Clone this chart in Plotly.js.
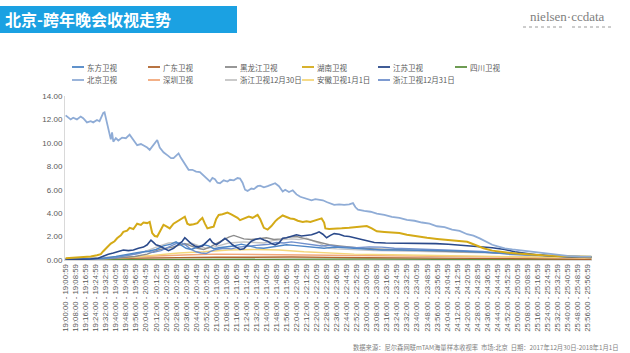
<!DOCTYPE html>
<html><head><meta charset="utf-8">
<script src="https://cdn.plot.ly/plotly-3.0.1.min.js"></script>
<style>html,body{margin:0;padding:0;background:#fff}#c{width:630px;height:353px}</style>
</head><body><div id="c"></div>
<script>
// minutes after 19:00, rating %
const seriesNames = ['东方卫视','广东卫视','黑龙江卫视','湖南卫视','江苏卫视','四川卫视','北京卫视','深圳卫视','浙江卫视12月30日','安徽卫视1月1日','浙江卫视12月31日'];
const seriesColors = ['#4E86C6','#B0652E','#8C8C8C','#D4AA17','#2B4A8B','#5E9140','#8FACD6','#F2A77A','#C4C4C4','#F4D67A','#7090CC'];
const seriesWidths = [1.4,1.4,1.4,2,1.6,1.4,1.8,1.4,1.4,1.4,1.4];

const dongfang = [[0,0.05],[15,0.08],[30,0.15],[40,0.3],[50,0.5],[58,0.65],[66,0.75],[72,0.9],[78,1.2],[84,1.35],[88,1.55],[92,1.3],[96,1.0],[100,0.9],[105,1.1],[110,1.3],[114,1.2],[118,0.95],[122,1.05],[128,1.1],[134,1.2],[140,1.35],[146,1.2],[152,1.05],[158,1.0],[164,1.1],[170,1.2],[176,1.3],[182,1.25],[188,1.2],[194,1.1],[200,1.05],[206,1.0],[214,1.1],[222,1.05],[230,0.95],[240,0.9],[252,0.85],[265,0.85],[280,0.8],[295,0.8],[310,0.78],[325,0.7],[340,0.62],[355,0.5],[370,0.42],[385,0.35],[400,0.3],[419,0.26]];
const guangdong = [[0,0.08],[30,0.1],[60,0.15],[90,0.2],[120,0.23],[150,0.26],[180,0.25],[210,0.22],[240,0.2],[270,0.18],[300,0.15],[330,0.12],[360,0.1],[390,0.08],[419,0.07]];
const heilongjiang = [[0,0.05],[20,0.08],[40,0.15],[55,0.3],[65,0.5],[75,0.9],[85,1.1],[95,1.4],[100,1.2],[105,1.0],[110,0.9],[115,1.1],[120,1.4],[125,1.7],[130,1.95],[134,2.1],[138,1.95],[142,1.8],[148,1.75],[154,1.85],[160,1.9],[166,1.75],[172,1.8],[178,1.95],[184,2.0],[190,1.85],[196,1.7],[200,1.6],[205,1.45],[210,1.3],[218,1.2],[226,1.1],[236,1.0],[246,0.95],[258,0.9],[270,0.85],[285,0.8],[300,0.75],[315,0.7],[330,0.68],[345,0.6],[360,0.48],[375,0.38],[390,0.3],[405,0.26],[419,0.24]];
const hunan = [[0,0.15],[5,0.18],[10,0.2],[15,0.25],[20,0.3],[25,0.4],[28,0.5],[30,0.75],[33,1.1],[36,1.4],[39,1.6],[41,1.85],[44,2.1],[46,2.4],[49,2.5],[51,2.75],[54,2.65],[57,3.1],[60,3.0],[62,3.2],[65,3.15],[67,3.25],[69,2.3],[71,2.05],[73,2.0],[75,2.4],[78,3.0],[80,2.9],[83,2.7],[86,3.1],[89,3.3],[92,3.5],[95,3.7],[97,3.1],[99,3.0],[102,3.05],[105,3.15],[107,3.4],[109,3.6],[111,3.1],[113,2.7],[116,2.8],[118,2.85],[120,3.5],[122,3.85],[125,3.9],[129,4.05],[132,3.9],[134,3.8],[137,3.6],[139,3.4],[142,3.55],[146,3.7],[149,3.6],[153,3.85],[155,3.5],[158,2.75],[161,2.6],[164,2.9],[167,3.3],[169,3.5],[173,3.8],[176,3.65],[179,3.55],[182,3.5],[185,3.35],[189,3.25],[192,3.3],[195,3.25],[198,3.35],[201,3.4],[204,3.55],[206,3.2],[207,2.7],[210,2.65],[215,2.65],[220,2.7],[226,2.75],[232,2.8],[236,2.85],[240,2.9],[244,2.7],[248,2.45],[254,2.4],[260,2.35],[266,2.3],[272,2.15],[280,2.0],[288,1.9],[296,1.8],[304,1.72],[312,1.65],[320,1.55],[326,1.3],[333,1.0],[340,0.8],[346,0.7],[353,0.62],[360,0.55],[370,0.45],[380,0.4],[392,0.35],[405,0.3],[419,0.28]];
const jiangsu = [[0,0.05],[10,0.05],[20,0.08],[26,0.15],[30,0.35],[34,0.5],[38,0.6],[42,0.75],[46,0.85],[50,0.8],[54,0.85],[58,1.0],[62,1.1],[65,1.3],[68,1.7],[70,1.5],[72,1.3],[75,1.2],[78,1.0],[82,0.8],[86,1.0],[90,1.3],[93,1.6],[95,1.9],[97,1.7],[100,1.4],[103,1.2],[106,1.1],[109,1.2],[112,1.5],[115,1.8],[117,1.5],[120,1.3],[123,1.5],[127,1.85],[130,1.6],[133,1.3],[136,1.1],[139,0.9],[142,0.95],[145,1.3],[148,1.6],[151,1.75],[155,1.85],[158,1.7],[161,1.6],[164,1.4],[167,1.3],[170,1.45],[173,1.85],[176,1.9],[180,2.0],[184,2.15],[188,2.05],[192,2.1],[196,2.15],[200,2.3],[202,2.4],[205,2.2],[208,1.9],[211,2.1],[214,2.25],[218,2.2],[222,2.05],[226,2.0],[230,1.9],[235,1.75],[240,1.6],[246,1.5],[255,1.45],[265,1.45],[275,1.42],[285,1.42],[295,1.4],[305,1.35],[315,1.28],[325,1.2],[333,1.12],[340,1.05],[350,0.9],[358,0.7],[365,0.6],[375,0.45],[390,0.32],[405,0.25],[419,0.22]];
const sichuan = [[0,0.02],[60,0.05],[120,0.08],[180,0.1],[240,0.08],[300,0.07],[360,0.05],[419,0.04]];
const beijing = [[0,12.35],[2,12.2],[4,12.0],[6,12.15],[9,12.0],[12,12.25],[14,12.1],[17,11.75],[20,11.85],[22,11.75],[25,11.95],[27,11.85],[30,12.55],[31,12.6],[33,11.7],[35,10.9],[36,10.3],[37,10.9],[38,10.1],[40,10.4],[42,10.2],[45,10.45],[48,10.4],[51,10.7],[54,10.2],[57,9.8],[60,9.9],[62,9.8],[65,9.6],[67,9.4],[70,9.8],[73,10.25],[75,9.6],[78,9.2],[81,8.95],[84,8.7],[86,8.7],[88,8.9],[90,9.1],[92,8.7],[94,8.4],[96,8.0],[98,7.7],[101,7.7],[104,7.55],[107,7.5],[110,7.2],[113,6.95],[115,6.7],[117,7.0],[119,6.9],[121,6.6],[123,6.55],[126,6.8],[129,6.7],[131,6.85],[134,6.8],[137,7.0],[139,6.95],[141,6.6],[143,6.0],[145,5.9],[148,6.1],[150,6.05],[153,6.3],[155,6.35],[158,6.2],[161,6.3],[164,6.4],[167,6.55],[170,6.3],[173,5.85],[175,6.0],[178,5.8],[181,5.95],[184,5.6],[187,5.4],[190,5.3],[193,5.25],[196,5.1],[199,5.2],[202,5.15],[205,5.1],[208,4.95],[211,4.85],[214,4.7],[218,4.75],[222,4.7],[226,4.75],[229,4.85],[231,4.5],[233,4.3],[238,4.2],[243,4.12],[248,3.95],[254,3.85],[260,3.68],[266,3.6],[272,3.42],[278,3.35],[284,3.2],[290,3.1],[296,2.88],[302,2.8],[308,2.6],[314,2.48],[320,2.2],[325,2.08],[330,1.85],[335,1.6],[340,1.3],[345,1.15],[350,1.0],[356,0.9],[362,0.82],[368,0.75],[374,0.68],[380,0.6],[386,0.5],[392,0.42],[400,0.35],[410,0.3],[419,0.28]];
const shenzhen = [[0,0.1],[20,0.12],[40,0.2],[60,0.3],[80,0.4],[100,0.45],[120,0.5],[140,0.48],[160,0.5],[180,0.45],[200,0.42],[220,0.45],[240,0.4],[260,0.38],[280,0.35],[300,0.35],[320,0.32],[340,0.3],[360,0.25],[380,0.2],[400,0.18],[419,0.16]];
const zhejiang1230 = [[0,0.1],[20,0.15],[40,0.25],[55,0.5],[65,0.8],[75,1.2],[82,1.45],[88,1.5],[94,1.3],[100,1.45],[106,1.2],[112,1.0],[118,1.1],[124,1.3],[130,1.45],[136,1.5],[142,1.55],[150,1.5],[158,1.45],[165,1.65],[172,1.7],[180,1.8],[186,1.75],[192,1.85],[198,1.6],[202,1.45],[206,1.2],[210,1.0],[216,0.95],[224,0.9],[234,0.85],[246,0.8],[260,0.78],[275,0.75],[290,0.7],[305,0.7],[320,0.68],[335,0.62],[350,0.55],[365,0.45],[380,0.38],[395,0.3],[419,0.25]];
const anhui0101 = [[0,0.05],[30,0.1],[50,0.2],[70,0.4],[90,0.6],[110,0.7],[130,0.85],[150,0.9],[170,0.85],[190,0.7],[210,0.6],[230,0.5],[260,0.45],[290,0.4],[320,0.35],[350,0.3],[380,0.22],[419,0.18]];
const zhejiang1231 = [[0,0.03],[15,0.05],[30,0.1],[40,0.2],[50,0.4],[58,0.55],[64,0.75],[70,0.65],[76,0.8],[82,1.1],[88,1.4],[92,1.5],[96,1.25],[100,0.9],[104,0.7],[108,0.6],[112,0.55],[116,0.75],[120,0.9],[126,1.0],[132,0.95],[138,1.1],[144,1.15],[150,1.25],[156,1.3],[162,1.35],[168,1.5],[174,1.45],[180,1.55],[186,1.45],[192,1.35],[198,1.3],[204,1.2],[210,1.25],[216,1.15],[224,1.1],[232,1.05],[242,1.12],[252,1.1],[262,1.0],[272,0.95],[282,0.9],[292,0.88],[302,0.85],[312,0.82],[322,0.78],[332,0.72],[342,0.62],[352,0.5],[365,0.42],[380,0.36],[400,0.3],[419,0.27]];
const allSeries = [dongfang,guangdong,heilongjiang,hunan,jiangsu,sichuan,beijing,shenzhen,zhejiang1230,anhui0101,zhejiang1231];

const yTicks = [0,2,4,6,8,10,12,14];
const tickMinutes = [];
for (let m = 0; m <= 416; m += 8) tickMinutes.push(m);
const pad = n => String(n).padStart(2,'0');
const tickLabels = tickMinutes.map(m => {
  const h = pad(19 + Math.floor(m/60)), mm = pad(m%60);
  return h+':'+mm+':00 - '+h+':'+mm+':59';
});

const W=630,H=353,L=65,R=38,T=96,B=93, PW=W-L-R, PH=H-T-B;
const fx = px => (px-L)/PW, fy = py => (H-B-py)/PH;

const traces = allSeries.map((s,i)=>({
  type:'scatter', mode:'lines', name:seriesNames[i],
  x:s.map(p=>p[0]), y:s.map(p=>p[1]),
  line:{color:seriesColors[i], width:seriesWidths[i]}, hoverinfo:'skip'
}));
const order=[5,1,7,9,8,2,10,0,4,3,6];
const drawTraces = order.map(i=>traces[i]);

const shapes=[], annotations=[];
shapes.push({type:'rect',xref:'paper',yref:'paper',x0:fx(0),x1:fx(237),y0:fy(33),y1:fy(6),fillcolor:'#1BA1E2',line:{width:0},layer:'below'});
annotations.push({xref:'paper',yref:'paper',x:fx(3),y:fy(19.5),xanchor:'left',yanchor:'middle',showarrow:false,
  text:'<b>北京-跨年晚会收视走势</b>',font:{family:'Noto Sans CJK SC',size:16,color:'#ffffff'}});
annotations.push({xref:'paper',yref:'paper',x:fx(567),y:fy(16.5),xanchor:'center',yanchor:'middle',showarrow:false,
  text:'nielsen·ccdata',font:{family:'Liberation Serif',size:13,color:'#808080'}});
shapes.push({type:'line',xref:'paper',yref:'paper',x0:fx(523),x1:fx(565),y0:fy(27),y1:fy(27),line:{color:'#9a9a9a',width:1,dash:'dot'}});
shapes.push({type:'line',xref:'paper',yref:'paper',x0:fx(572),x1:fx(613),y0:fy(27),y1:fy(27),line:{color:'#9a9a9a',width:1,dash:'dot'}});
const colX=[72,148,225,302,378,455];
seriesNames.forEach((n,i)=>{
  const row = i<6?0:1, col = i<6?i:i-6;
  const x0 = colX[col], y = row===0?67:80;
  shapes.push({type:'line',xref:'paper',yref:'paper',x0:fx(x0),x1:fx(x0+12),y0:fy(y),y1:fy(y),line:{color:seriesColors[i],width:1.8}});
  annotations.push({xref:'paper',yref:'paper',x:fx(x0+12.5),y:fy(y),xanchor:'left',yanchor:'middle',showarrow:false,
    text:n,font:{family:'Noto Sans CJK SC',size:7.5,color:'#595959'}});
});
annotations.push({xref:'paper',yref:'paper',x:fx(621),y:fy(347),xanchor:'right',yanchor:'middle',showarrow:false,
  text:'数据来源：尼尔森网联mTAM海量样本收视率  市场:北京  日期：2017年12月30日-2018年1月1日',
  font:{family:'Noto Sans CJK SC',size:6.3,color:'#7f7f7f'}});

const layout = {
  width:W,height:H,margin:{l:L,r:R,t:T,b:B,pad:0},
  paper_bgcolor:'#ffffff',plot_bgcolor:'#ffffff',showlegend:false,
  xaxis:{range:[-0.5,419.5],tickmode:'array',tickvals:tickMinutes,ticktext:tickLabels,tickangle:-90,
    tickfont:{family:'Liberation Sans',size:7.8,color:'#595959'},showgrid:false,zeroline:false,
    showline:true,linecolor:'#D9D9D9',linewidth:1,ticks:'',ticklen:0},
  yaxis:{range:[0,14],tickmode:'array',tickvals:yTicks,tickformat:'.2f',
    tickfont:{family:'Liberation Sans',size:8,color:'#595959'},showgrid:false,zeroline:false,
    showline:true,linecolor:'#D9D9D9',linewidth:1,ticks:'',ticklen:3},
  shapes:shapes, annotations:annotations
};
Plotly.newPlot('c',drawTraces,layout,{staticPlot:true,displayModeBar:false});
</script></body></html>
